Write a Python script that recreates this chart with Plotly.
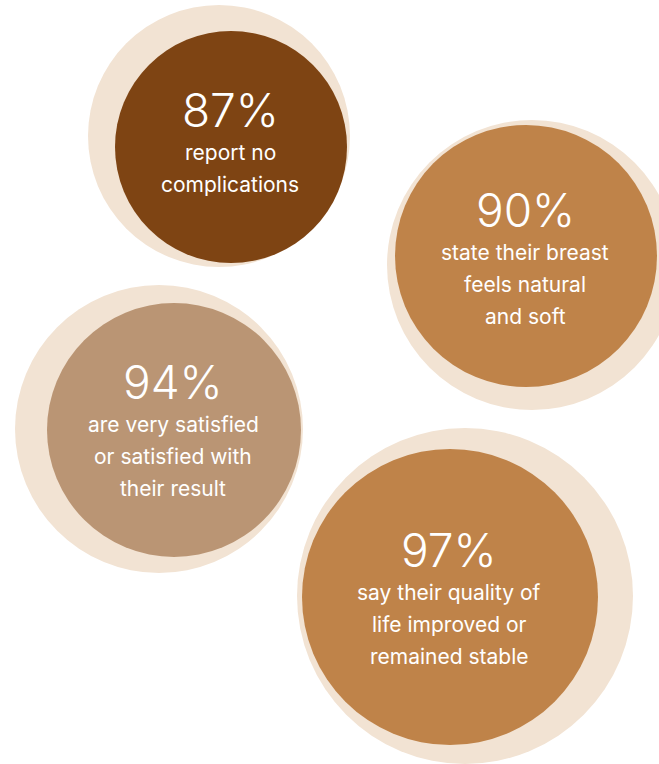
import plotly.graph_objects as go

# ---- data ----
percent_values = [87, 90, 94, 97]
captions = [
    ["report no", "complications"],
    ["state their breast", "feels natural", "and soft"],
    ["are very satisfied", "or satisfied with", "their result"],
    ["say their quality of", "life improved or", "remained stable"],
]

# ---- layout (pixel space) ----
W, H = 659, 764
# (cx, cy, r) of main disc, (cx, cy, r) of halo disc
main_discs = [(231, 147, 116), (526, 256, 131), (174, 430, 127), (450, 597, 148)]
halo_discs = [(219, 136, 131), (532, 265, 145), (159, 429, 144), (465, 596, 168)]
disc_colors = ["#7E4413", "#BF8349", "#BA9574", "#BF8349"]
halo_color = "#F2E3D3"
number_y = [110, 210, 382, 550]
caption_offset = 42
line_gap = 32

fig = go.Figure()
fig.add_trace(go.Scatter(x=[0, W], y=[0, H], mode="markers",
                         marker=dict(opacity=0), hoverinfo="skip", showlegend=False))

shapes = []
for (hx, hy, hr) in halo_discs:
    shapes.append(dict(type="circle", xref="x", yref="y", x0=hx - hr, x1=hx + hr,
                       y0=hy - hr, y1=hy + hr, fillcolor=halo_color, line_width=0, layer="below"))
for (mx, my, mr), col in zip(main_discs, disc_colors):
    shapes.append(dict(type="circle", xref="x", yref="y", x0=mx - mr, x1=mx + mr,
                       y0=my - mr, y1=my + mr, fillcolor=col, line_width=0, layer="below"))

annotations = []
for i, (val, caps) in enumerate(zip(percent_values, captions)):
    cx = main_discs[i][0] - 1
    annotations.append(dict(x=cx, y=number_y[i], xref="x", yref="y", text=f"{val}%",
                            showarrow=False, xanchor="center", yanchor="middle",
                            font=dict(family="Inter", size=46, color="white", weight=300)))
    for j, line in enumerate(caps):
        annotations.append(dict(x=cx, y=number_y[i] + caption_offset + j * line_gap,
                                xref="x", yref="y", text=line, showarrow=False,
                                xanchor="center", yanchor="middle",
                                font=dict(family="Inter", size=21, color="white", weight=400)))

fig.update_layout(
    width=W, height=H, margin=dict(l=0, r=0, t=0, b=0),
    paper_bgcolor="white", plot_bgcolor="white",
    xaxis=dict(range=[0, W], visible=False, fixedrange=True),
    yaxis=dict(range=[H, 0], visible=False, fixedrange=True),
    shapes=shapes, annotations=annotations, showlegend=False,
)
fig.write_html("out.html", config={"displayModeBar": False},
               post_script="document.body.style.margin='0';document.body.style.overflow='hidden';")
